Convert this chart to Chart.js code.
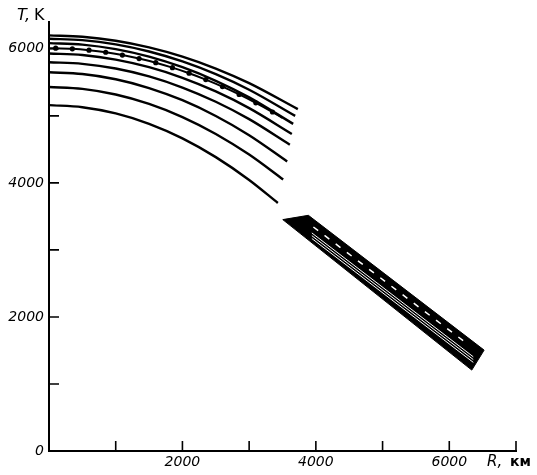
<!DOCTYPE html>
<html>
<head>
<meta charset="utf-8">
<script src="https://cdn.jsdelivr.net/npm/chart.js@4/dist/chart.umd.min.js"></script>
<style>
    body { margin: 0; background: #fff; }
    #box { width: 537px; height: 475px; }
</style>
</head>
<body>
<div id="box"><canvas id="grafico" width="537" height="475"></canvas></div>
<script>
// raggio in km, temperatura in K
var radii = [0, 500, 1000, 1500, 2000, 2500, 3000];
var curveEnds = [3730, 3690, 3660, 3640, 3610, 3570, 3510, 3430];

var curve1 = [6200, 6180, 6121, 6022, 5884, 5706, 5488, 5100];
var curve2 = [6150, 6129, 6066, 5960, 5812, 5622, 5390, 5000];
var curve3 = [6085, 6063, 5995, 5883, 5725, 5523, 5275, 4880];
var curve4 = [5930, 5907, 5839, 5726, 5568, 5364, 5115, 4730];
var curve5 = [5800, 5776, 5706, 5588, 5422, 5210, 4951, 4570];
var curve6 = [5650, 5624, 5546, 5415, 5233, 4998, 4711, 4320];
var curve7 = [5430, 5402, 5318, 5178, 4982, 4730, 4422, 4050];
var curve8 = [5160, 5129, 5036, 4881, 4664, 4384, 4043, 3700];

var dottedR = [0, 100, 350, 600, 850, 1100, 1350, 1600, 1850, 2100, 2350, 2600, 2850, 3100, 3350, 3500];
var dottedT = [6010, 6009, 6000, 5979, 5949, 5907, 5855, 5793, 5719, 5636, 5541, 5436, 5320, 5194, 5057, 4970];

// fascia scura a destra
var bandTopR = [3504, 3888, 6522];
var bandTopT = [3452, 3516, 1505];
var bandBottomR = [3504, 6337, 6522];
var bandBottomT = [3452, 1207, 1505];

// linee chiare dentro la fascia
var whiteR = [3940, 6360];
var white1 = [3253, 1405];
var white2 = [3212, 1364];
var white3 = [3170, 1322];
var dashR = [3963, 6262];
var dashT = [3342, 1605];

var xTicks = [1000, 2000, 3000, 4000, 5000, 6000, 7000];
var yTicks = [0, 1000, 2000, 3000, 4000, 5000, 6000];
var xLabels = [2000, 4000, 6000];
var yLabels = [0, 2000, 4000, 6000];

function punti (xs, ys) {
    return xs.map(function (x, i) { return {x: x, y: ys[i]}; });
}

function curva (values, i) {
    return {
        data: punti(radii.concat([curveEnds[i]]), values),
        borderColor: '#000',
        borderWidth: 2.4,
        pointRadius: 0,
        cubicInterpolationMode: 'monotone',
        fill: false
    };
}

function lineaChiara (xs, ys, dash) {
    return {
        data: punti(xs, ys),
        borderColor: '#fff',
        borderWidth: dash ? 1.5 : 1,
        borderDash: dash ? [6, 8] : [],
        pointRadius: 0,
        fill: false
    };
}

var curves = [curve1, curve2, curve3, curve4, curve5, curve6, curve7, curve8];

var datasets = [
    lineaChiara(whiteR, white1),
    lineaChiara(whiteR, white2),
    lineaChiara(whiteR, white3),
    lineaChiara(dashR, dashT, true),
    {
        data: punti(bandTopR, bandTopT),
        borderColor: '#000',
        borderWidth: 1,
        backgroundColor: '#000',
        pointRadius: 0,
        fill: '+1'
    },
    {
        data: punti(bandBottomR, bandBottomT),
        borderColor: '#000',
        borderWidth: 1,
        pointRadius: 0,
        fill: false
    },
    {
        data: punti(dottedR, dottedT),
        borderColor: '#000',
        borderWidth: 2,
        pointRadius: dottedR.map(function (r, i) { return (i === 0 || i === dottedR.length - 1) ? 0 : 2.6; }),
        pointBackgroundColor: '#000',
        pointBorderWidth: 0,
        cubicInterpolationMode: 'monotone',
        fill: false
    }
].concat(curves.map(curva));

// tacche interne e titoli degli assi
var extras = {
    id: 'extras',
    afterDraw: function (chart) {
        var ctx = chart.ctx;
        var xs = chart.scales.x;
        var ys = chart.scales.y;
        ctx.save();
        ctx.strokeStyle = '#000';
        ctx.lineWidth = 1.6;
        ctx.beginPath();
        xTicks.forEach(function (v) {
            var px = xs.getPixelForValue(v);
            ctx.moveTo(px, ys.bottom);
            ctx.lineTo(px, ys.bottom - 10);
        });
        yTicks.slice(1).forEach(function (v) {
            var py = ys.getPixelForValue(v);
            ctx.moveTo(xs.left, py);
            ctx.lineTo(xs.left + 10, py);
        });
        ctx.stroke();

        ctx.fillStyle = '#000';
        ctx.textBaseline = 'alphabetic';
        ctx.font = 'italic 16px "DejaVu Sans"';
        ctx.fillText('T,', 17, 20);
        ctx.font = '16px "DejaVu Sans"';
        ctx.fillText('K', 34, 20);
        ctx.font = 'italic 15px "DejaVu Sans"';
        ctx.fillText('R,', 487, 466);
        ctx.font = 'bold 14px "DejaVu Sans"';
        ctx.fillText('км', 510, 466);
        ctx.restore();
    }
};

var ctx = document.getElementById('grafico');
new Chart(ctx, {
    type: 'line',
    data: { datasets: datasets },
    plugins: [extras],
    options: {
        responsive: false,
        animation: false,
        layout: { padding: { top: 22, right: 21, left: 0, bottom: 0 } },
        plugins: {
            legend: { display: false },
            tooltip: { enabled: false }
        },
        scales: {
            x: {
                type: 'linear',
                min: 0,
                max: 7000,
                grid: { display: false, drawTicks: false },
                border: { color: '#000', width: 2 },
                ticks: {
                    stepSize: 1000,
                    autoSkip: false,
                    maxRotation: 0,
                    padding: 3,
                    color: '#000',
                    font: { family: 'DejaVu Sans', style: 'italic', size: 14 },
                    callback: function (value) {
                        return xLabels.indexOf(value) >= 0 ? String(value) : '';
                    }
                },
                afterFit: function (scale) { scale.height = 24; }
            },
            y: {
                type: 'linear',
                min: 0,
                max: 6400,
                grid: { display: false, drawTicks: false },
                border: { color: '#000', width: 2 },
                afterBuildTicks: function (scale) {
                    scale.ticks = yTicks.map(function (v) { return {value: v}; });
                },
                ticks: {
                    autoSkip: false,
                    padding: 5,
                    color: '#000',
                    font: { family: 'DejaVu Sans', style: 'italic', size: 14 },
                    callback: function (value) {
                        return yLabels.indexOf(value) >= 0 ? String(value) : '';
                    }
                },
                afterFit: function (scale) { scale.width = 49; }
            }
        }
    }
});
</script>
</body>
</html>
